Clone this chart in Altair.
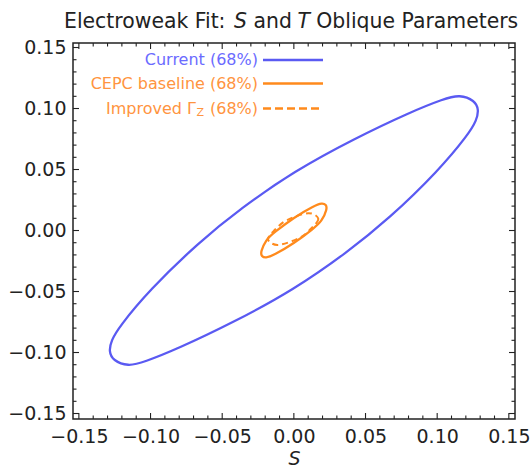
import altair as alt
import pandas as pd

# ---- data ----
S_current = [0.1157, 0.1048, 0.0815, 0.0420, 0.0001, -0.0371, -0.0662, -0.1011, -0.1221, -0.1274,
             -0.1291, -0.1262, -0.1157, -0.1048, -0.0815, -0.0420, -0.0001, 0.0371, 0.0662, 0.1011,
             0.1221, 0.1274, 0.1291, 0.1262]
T_current = [0.1114, 0.1080, 0.0972, 0.0752, 0.0486, 0.0180, -0.0095, -0.0492, -0.0793, -0.0902,
             -0.0991, -0.1066, -0.1114, -0.1080, -0.0972, -0.0752, -0.0486, -0.0180, 0.0095, 0.0492,
             0.0793, 0.0902, 0.0991, 0.1066]

S_cepc = [0.0198, 0.0141, 0.0001, -0.0138, -0.0195, -0.0233, -0.0225,
          -0.0198, -0.0141, -0.0001, 0.0138, 0.0195, 0.0233, 0.0225]
T_cepc = [0.0227, 0.0203, 0.0108, -0.0017, -0.0075, -0.0178, -0.0212,
          -0.0227, -0.0203, -0.0108, 0.0017, 0.0075, 0.0178, 0.0212]

S_gz = [0.0100, 0.0170, 0.0124, 0.0037, -0.0110, -0.0180, -0.0134, -0.0047]
T_gz = [0.0142, 0.0098, 0.0020, -0.0062, -0.0118, -0.0074, 0.0004, 0.0086]

major_ticks = [-0.15, -0.10, -0.05, 0.00, 0.05, 0.10, 0.15]
minor_ticks = [-0.14, -0.13, -0.12, -0.11, -0.09, -0.08, -0.07, -0.06,
               -0.04, -0.03, -0.02, -0.01, 0.01, 0.02, 0.03, 0.04,
               0.06, 0.07, 0.08, 0.09, 0.11, 0.12, 0.13, 0.14]

legend_labels = ["Current (68%)", "CEPC baseline (68%)", "Improved Γ", "Z", "(68%)"]
title_parts = ["Electroweak Fit:", "S", "and", "T", "Oblique Parameters"]

BLUE = "#5a5af2"
BLUE_TXT = "#6b6bff"
ORANGE = "#ff8a1c"
ORANGE_TXT = "#ff9440"
FONT = "DejaVu Sans"

W, H = 442, 376

xscale = alt.Scale(domain=[-0.1541, 0.1543], nice=False, zero=False)
yscale = alt.Scale(domain=[-0.1545, 0.1537], nice=False, zero=False)
xaxis = alt.Axis(values=major_ticks, format=".2f", ticks=False, domain=False, grid=False,
                 labelFont=FONT, labelFontSize=19, labelColor="#222", labelPadding=8,
                 labelFlush=False, labelOverlap=False,
                 title="S", titleFont=FONT, titleFontSize=19, titleFontStyle="italic",
                 titleFontWeight="normal", titleColor="#222", titlePadding=3)
yaxis = alt.Axis(values=major_ticks, format=".2f", ticks=False, domain=False, grid=False,
                 labelFont=FONT, labelFontSize=19, labelColor="#222", labelPadding=7,
                 labelFlush=False, labelOverlap=False, title=None)
xenc = alt.X("S:Q", scale=xscale, axis=xaxis)
yenc = alt.Y("T:Q", scale=yscale, axis=yaxis)


def ell(S, T):
    return pd.DataFrame({"S": S, "T": T, "i": list(range(len(S)))})


current = alt.Chart(ell(S_current, T_current)).mark_line(
    interpolate="basis-closed", color=BLUE, strokeWidth=2.3
).encode(x=xenc, y=yenc, order="i:Q")
cepc = alt.Chart(ell(S_cepc, T_cepc)).mark_line(
    interpolate="basis-closed", color=ORANGE, strokeWidth=2.3
).encode(x=xenc, y=yenc, order="i:Q")
gz = alt.Chart(ell(S_gz, T_gz)).mark_line(
    interpolate="cardinal-closed", color=ORANGE, strokeWidth=2.0, strokeDash=[6, 4]
).encode(x=xenc, y=yenc, order="i:Q")

# frame ticks (inward)
dfS_major = pd.DataFrame({"S": major_ticks})
dfS_minor = pd.DataFrame({"S": minor_ticks})
dfT_major = pd.DataFrame({"T": major_ticks})
dfT_minor = pd.DataFrame({"T": minor_ticks})
tick_layers = []
for df, ln in [(dfS_major, 6), (dfS_minor, 3.5)]:
    tick_layers.append(alt.Chart(df).mark_rule(color="#222", strokeWidth=1.1).encode(
        x=xenc, y=alt.value(H), y2=alt.value(H - ln)))
    tick_layers.append(alt.Chart(df).mark_rule(color="#222", strokeWidth=1.1).encode(
        x=xenc, y=alt.value(0), y2=alt.value(ln)))
for df, ln in [(dfT_major, 6), (dfT_minor, 3.5)]:
    tick_layers.append(alt.Chart(df).mark_rule(color="#222", strokeWidth=1.1).encode(
        y=yenc, x=alt.value(0), x2=alt.value(ln)))
    tick_layers.append(alt.Chart(df).mark_rule(color="#222", strokeWidth=1.1).encode(
        y=yenc, x=alt.value(W), x2=alt.value(W - ln)))


# legend (inside the frame, labels on the left of samples)
def txt(label, x, y, color, size=16, align="right", style="normal", baseline="middle"):
    return alt.Chart(pd.DataFrame({"label": [label]})).mark_text(
        align=align, baseline=baseline, font=FONT, fontSize=size, color=color, fontStyle=style
    ).encode(text="label:N", x=alt.value(x), y=alt.value(y))


def sample(y, color, dash=None):
    kw = dict(color=color, strokeWidth=2.6)
    if dash:
        kw["strokeDash"] = dash
    return alt.Chart(pd.DataFrame({"label": ["s"]})).mark_rule(**kw).encode(
        x=alt.value(190), x2=alt.value(250), y=alt.value(y))


legend = [
    txt(legend_labels[0], 185, 17, BLUE_TXT),
    sample(17, BLUE),
    txt(legend_labels[1], 185, 40.5, ORANGE_TXT),
    sample(40.5, ORANGE),
    txt(legend_labels[4], 185, 65.5, ORANGE_TXT),
    txt(legend_labels[3], 131, 69.5, ORANGE_TXT, size=11),
    txt(legend_labels[2], 123, 65.5, ORANGE_TXT),
    sample(65.5, ORANGE, [8, 4]),
]

# title with italic S and T
ty = -15
title = [
    txt(title_parts[0], -9, ty, "#222", size=20.4, align="left", baseline="alphabetic"),
    txt(title_parts[1], 161.1, ty, "#222", size=20.4, align="left", style="italic", baseline="alphabetic"),
    txt(title_parts[2], 180.5, ty, "#222", size=20.4, align="left", baseline="alphabetic"),
    txt(title_parts[3], 224.4, ty, "#222", size=20.4, align="left", style="italic", baseline="alphabetic"),
    txt(title_parts[4], 243.3, ty, "#222", size=20.4, align="left", baseline="alphabetic"),
]

chart = alt.layer(current, cepc, gz, *tick_layers, *legend, *title).properties(
    width=W, height=H,
    padding={"left": 73, "top": 43, "right": 16, "bottom": 53},
    autosize=alt.AutoSizeParams(type="none"),
).configure_view(stroke="#222", strokeWidth=1.5)

chart.save("out.html", embed_options={"renderer": "svg", "actions": False})
